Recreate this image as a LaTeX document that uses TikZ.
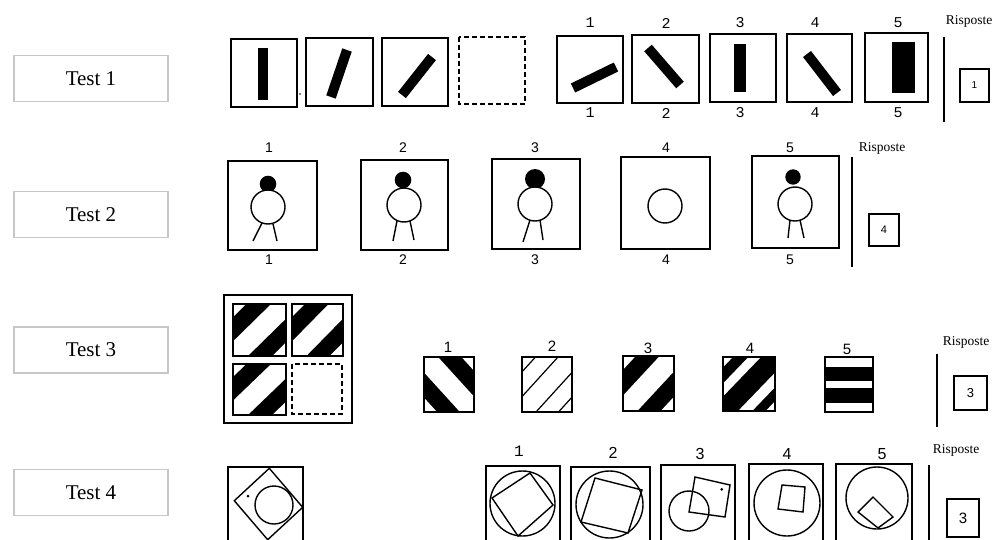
\documentclass[tikz,border=0pt]{standalone}
\usepackage{fontspec}
\setmainfont{Liberation Serif}
\newfontfamily\monof{Liberation Mono}
\newfontfamily\sansf{Liberation Sans}
\newcommand\wband[2]{\fill[white] (#1+2,-2) -- (#2+2,-2) -- (#2-2,2) -- (#1-2,2) -- cycle;}
\newcommand\lband[1]{\draw[line width=1.2pt] (#1+2,-2) -- (#1-2,2);}
% #1 scope options, #2 background colour, #3 band code
\newcommand\patsq[3]{%
\begin{scope}[#1]
 \begin{scope}
  \clip (0,0) rectangle (1,1);
  \fill[#2] (0,0) rectangle (1,1);
  #3
 \end{scope}
 \draw[line width=1.4pt] (0,0) rectangle (1,1);
\end{scope}}
\begin{document}
\begin{tikzpicture}[x=1pt,y=-1pt,
  labelbox/.style={draw=black!22, line width=1.2pt, minimum width=154pt, minimum height=46pt, inner sep=0pt, font=\fontsize{21}{24}\selectfont},
  card/.style={draw=black, line width=1.4pt},
  dashcard/.style={draw=black, line width=1.4pt, dash pattern=on 5pt off 3pt},
  bar/.style={line width=10pt},
  monolab/.style={font=\monof\fontsize{15}{16}\selectfont, inner sep=0pt},
  handlab/.style={font=\sansf\fontsize{14}{16}\selectfont, inner sep=0pt},
  biglab/.style={font=\sansf\fontsize{16}{18}\selectfont, inner sep=0pt},
  risp/.style={font=\fontsize{13.5}{15}\selectfont, inner sep=0pt},
  sep/.style={line width=1.8pt},
  ansbox/.style={draw=black, line width=1.4pt},
  thinline/.style={line width=1.4pt}
]
\useasboundingbox (0,0) rectangle (1003,540);
\clip (0,0) rectangle (1003,540);
\fill[white] (0,0) rectangle (1003,540);

% ---------- left labels
\node[labelbox] (t1) at (91,78.5) {Test 1};
\node[labelbox] (t2) at (91,214.5) {Test 2};
\node[labelbox] (t3) at (91,350) {Test 3};
\node[labelbox] (t4) at (91,492.5) {Test 4};

% ---------- Test 1
\draw[card] (231,39) rectangle (297,107);
\draw[card] (306,38) rectangle (373,106);
\draw[card] (382,38) rectangle (448,106);
\draw[dashcard] (459,37) rectangle (525,104);
\draw[bar] (263,48) -- (263,100);
\draw[bar] (347,50) -- (331,97);
\draw[bar] (432,57) -- (402,95);
\fill (300,94) circle (0.8);

\draw[card] (557,36) rectangle (623,103);
\draw[bar] (573,88) -- (616,67);
\draw[card] (632,35) rectangle (699,103);
\draw[bar] (648,48) -- (680,85);
\draw[card] (710,34) rectangle (776,102);
\fill (734,44) rectangle (746,92);
\draw[card] (787,34) rectangle (852,102);
\draw[bar] (807,54) -- (837,93);
\draw[card] (865,33) rectangle (928,102);
\fill (892,42) rectangle (915,93);
\foreach \x/\n in {590/1,666/2,740/3,815/4,898/5}{
  \node[monolab] (a1t\n) at (\x,23) {\n};
  \node[monolab] (a1b\n) at (\x,113) {\n};
}
\draw[sep] (944,37) -- (944,122);
\draw[ansbox] (960,69) rectangle (989,102);
\node[font=\sansf\fontsize{10}{12}\selectfont] (ans1) at (974.5,85.5) {1};
\node[risp] (r1) at (969,21) {Risposte};

% ---------- Test 2
\draw[card] (228,161) rectangle (317,250);
\draw[card] (361,160) rectangle (448,250);
\draw[card] (492,159) rectangle (580,249);
\draw[card] (621,157) rectangle (710,249);
\draw[card] (752,156) rectangle (839,248);
% figure 1
\fill (268,184) circle (8.3);
\draw[thinline, fill=white] (268,207) circle (17);
\draw[thinline] (262,223) -- (253,241) (273,224) -- (277,241);
% figure 2
\fill (403,180) circle (8.3);
\draw[thinline, fill=white] (404,205) circle (17);
\draw[thinline] (397,221) -- (393,241) (410,221) -- (414,240);
% figure 3
\fill (535,179) circle (10);
\draw[thinline, fill=white] (535,204) circle (17);
\draw[thinline] (530,220) -- (523,242) (540,220) -- (543,240);
% figure 4
\draw[thinline] (665,206) circle (17);
% figure 5
\fill (793,177) circle (7.7);
\draw[thinline, fill=white] (795,204) circle (17);
\draw[thinline] (790,220) -- (788,238) (800,220) -- (804,238);
\foreach \x/\n in {269/1,403/2,535/3,666/4,790/5}{
  \node[handlab] (a2t\n) at (\x,148) {\n};
  \node[handlab] (a2b\n) at (\x,260) {\n};
}
\draw[sep] (852,157) -- (852,267);
\draw[ansbox] (869,214) rectangle (899,246);
\node[font=\sansf\fontsize{11}{12}\selectfont] (ans2) at (884,230) {4};
\node[risp] (r2) at (882,148) {Risposte};

% ---------- Test 3
\draw[line width=2.8pt] (224,295) rectangle (352,423);
\patsq{shift={(233,304)},xscale=53,yscale=52}{black}{\wband{-1}{0.25}\wband{0.72}{1.28}\wband{1.74}{3}}
\patsq{shift={(292,304)},xscale=51,yscale=52}{black}{\wband{-1}{0.25}\wband{0.72}{1.28}\wband{1.74}{3}}
\patsq{shift={(233,364)},xscale=53,yscale=51}{black}{\wband{-1}{0.25}\wband{0.72}{1.28}\wband{1.74}{3}}
\draw[dashcard] (292,364) rectangle (342,414);
% options
\patsq{shift={(474,357)},xscale=-50,yscale=55}{black}{\wband{-1}{0.25}\wband{0.72}{1.28}\wband{1.74}{3}}
\patsq{shift={(522,357)},xscale=50,yscale=55}{white}{\lband{0.27}\lband{0.72}\lband{1.28}\lband{1.73}}
\patsq{shift={(623,356)},xscale=51,yscale=55}{black}{\wband{-1}{0.25}\wband{0.72}{1.28}\wband{1.74}{3}}
\patsq{shift={(723,357)},xscale=52,yscale=54}{black}{\wband{-1}{0.19}\wband{0.49}{0.73}\wband{1.29}{1.56}\wband{1.82}{3}}
\patsq{shift={(825,357)},xscale=48,yscale=55}{white}{\fill[black] (0,0.19) rectangle (1,0.44); \fill[black] (0,0.56) rectangle (1,0.84);}
\node[handlab, font=\sansf\fontsize{15}{17}\selectfont] (a31) at (448,347) {1};
\node[handlab, font=\sansf\fontsize{15}{17}\selectfont] (a32) at (552,346) {2};
\node[handlab, font=\sansf\fontsize{15}{17}\selectfont] (a33) at (648,348) {3};
\node[handlab, font=\sansf\fontsize{15}{17}\selectfont] (a34) at (750,348) {4};
\node[handlab, font=\sansf\fontsize{15}{17}\selectfont] (a35) at (847,349) {5};
\draw[sep] (937,354) -- (937,427);
\draw[ansbox] (954,376) rectangle (987,410);
\node[font=\sansf\fontsize{13}{14}\selectfont] (ans3) at (970.5,393) {3};
\node[risp] (r3) at (966,342) {Risposte};

% ---------- Test 4
\draw[card] (228,467) rectangle (303,550);
\draw[thinline] (269.3,468.3) -- (302.7,507.3) -- (267.7,539.7) -- (234.3,500.7) -- cycle;
\draw[thinline] (274,505) circle (19);
\fill (248,496) circle (1.5);

\draw[card] (486,466) rectangle (560,550);
\draw[thinline] (522.5,503.5) circle (32.5);
\draw[thinline] (530,473) -- (553,505) -- (518,536) -- (492,498) -- cycle;

\draw[card] (571,467) rectangle (650,550);
\draw[thinline] (609.5,504.5) circle (33.5);
\draw[thinline] (595,478) -- (642,490) -- (628,533) -- (581,522) -- cycle;

\draw[card] (661,465) rectangle (735,550);
\draw[thinline] (689,511) circle (20);
\draw[thinline] (695,477) -- (730,485) -- (725,517) -- (689,512) -- cycle;
\fill (721.7,489.3) circle (1.5);

\draw[card] (749,464) rectangle (823,550);
\draw[thinline] (787,503) circle (33);
\draw[thinline] (782,485) -- (805,487) -- (803,512) -- (778,509) -- cycle;

\draw[card] (836,464) rectangle (912,550);
\draw[thinline] (877,498) circle (31);
\draw[thinline] (873,497) -- (893,517) -- (878,528) -- (858,512) -- cycle;

\node[monolab, font=\monof\fontsize{16}{18}\selectfont] (a41) at (519,451) {1};
\node[biglab] (a42) at (613,453) {2};
\node[biglab] (a43) at (700,454) {3};
\node[biglab] (a44) at (787,454) {4};
\node[biglab] (a45) at (882,454) {5};
\draw[sep] (929,465) -- (929,550);
\draw[ansbox] (947,499) rectangle (979,537);
\node[font=\sansf\fontsize{15}{16}\selectfont] (ans4) at (963,518) {3};
\node[risp] (r4) at (956,450) {Risposte};
\end{tikzpicture}
\end{document}
